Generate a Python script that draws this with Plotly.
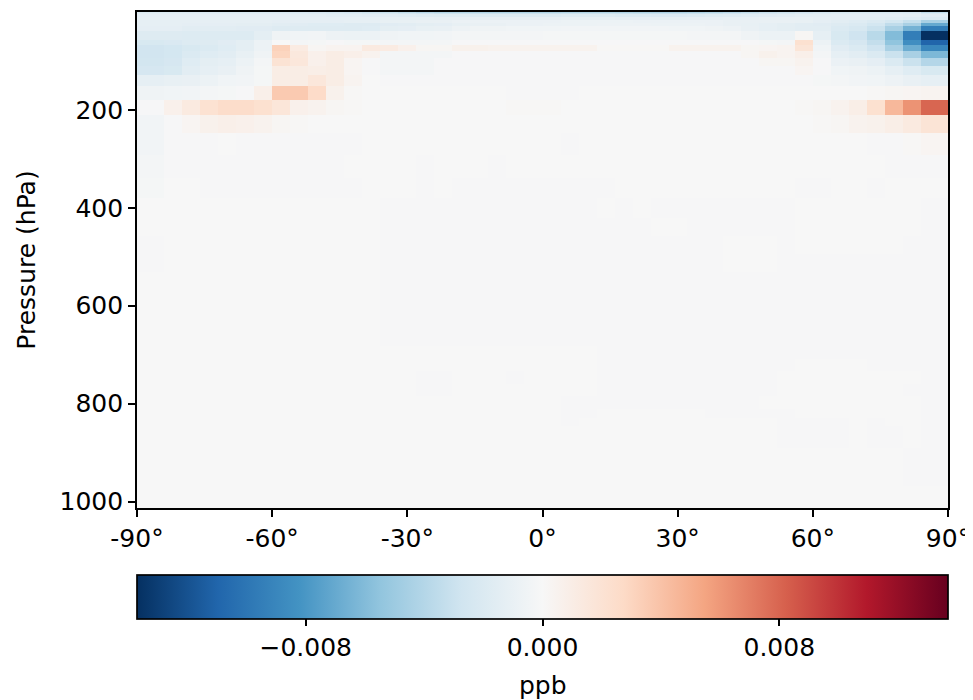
import numpy as np
import plotly.graph_objects as go

# Latitude cell edges (degrees) and pressure cell edges (hPa, top -> bottom)
lat_edges = [-90, -84, -80, -76, -72, -68, -64, -60, -56, -52, -48, -44, -40, -36, -32,
             -28, -24, -20, -16, -12, -8, -4, 0, 4, 8, 12, 16, 20, 24, 28, 32, 36, 40,
             44, 48, 52, 56, 60, 64, 68, 72, 76, 80, 84, 90]
p_edges = [0.01, 2, 5, 10, 16, 23, 28, 39, 57, 67, 79, 94, 111, 128, 152, 180, 210, 247,
           292, 340, 380, 420, 457, 495, 532, 570, 607, 645, 683, 708, 733, 759, 784, 810,
           830, 846, 861, 876, 891, 906, 922, 938, 953, 968, 983, 998, 1013.25]

# Zonal-mean difference, in units of 1e-4 ppb; one row per pressure layer (top -> bottom)
diff_1e4 = [
 [-20,-20,-21,-21,-22,-22,-22,-22,-23,-24,-26, -28,-30,-32,-36,-40,-42,-42,-43,-44,-44,-44,
  -44,-43,-42,-42,-43,-44,-45,-45,-44,-42,-40, -36,-32,-30,-28,-25,-23,-22,-22,-22,-24,-35],
 [-15,-15,-15,-16,-16,-16,-16,-16,-17,-18,-19, -20,-22,-23,-26,-28,-30,-30,-31,-31,-31,-31,
  -31,-30,-30,-30,-31,-32,-32,-32,-31,-30,-28, -26,-24,-22,-20,-18,-17,-16,-16,-16,-17,-22],
 [-13,-13,-13,-13,-13,-13,-13,-13,-14,-14,-15, -15,-16,-16,-17,-18,-19,-19,-20,-20,-20,-20,
  -20,-19,-19,-19,-20,-20,-21,-21,-20,-19,-18, -17,-16,-15,-14,-14,-13,-13,-13,-13,-14,-16],
 [-12,-12,-12,-12,-12,-12,-12,-12,-12,-12,-12, -12,-12,-12,-12,-12,-13,-13,-13,-13,-13,-13,
  -13,-12,-12,-12,-13,-13,-14,-14,-13,-13,-12, -12,-11,-11,-11,-12,-13,-13,-14,-15,-17,-20],
 [-12,-12,-12,-12,-12,-12,-12,-13,-13,-13,-13, -12,-12,-11,-11,-10,-10,-9,-9,-9,-9,-9,
  -9,-8,-8,-8,-8,-9,-9,-9,-9,-9,-10, -10,-10,-10,-11,-13,-15,-17,-20,-25,-32,-45],
 [-12,-12,-13,-13,-13,-14,-14,-15,-16,-17,-17, -18,-18,-16,-15,-14,-13,-11,-10,-10,-9,-9,
  -8,-8,-8,-7,-7,-7,-8,-8,-8,-9,-10, -11,-12,-14,-15,-16,-18,-20,-25,-35,-45,-70],
 [-13,-13,-15,-15,-15,-16,-16,-18,-18,-18,-18, -18,-17,-14,-13,-11,-10,-7,-6,-6,-5,-5,
  -5,-4,-4,-4,-4,-4,-4,-5,-5,-6,-7, -10,-12,-14,-15,-15,-20,-23,-30,-45,-65,-95],
 [-18,-18,-19,-19,-19,-19,-14,-6,-5,-4,-7, -8,-8,-6,-5,-5,-4,-3,-3,-3,-3,-3,
  -2,-2,-2,-2,-2,-2,-2,-2,-3,-3,-3, -6,-8,-8,2,-12,-22,-28,-38,-60,-95,-137],
 [-22,-21,-19,-18,-16,-14,-8,0,-3,-2,-1, -2,-2,-3,-3,-3,-3,-1,-1,-1,-1,-1,
  -1,-1,-1,-1,-1,-1,-1,-1,-1,-1,-1, -1,-2,-3,22,-8,-20,-24,-33,-55,-85,-110],
 [-27,-25,-22,-20,-17,-14,-8,32,12,2,4, 4,13,12,7,2,2,6,6,5,5,5,
  5,5,5,1,1,1,1,5,5,5,5, 2,3,4,18,-5,-16,-20,-28,-45,-68,-90],
 [-27,-25,-20,-17,-15,-11,-6,30,15,7,10, 8,5,-3,-3,-3,-3,-1,-1,-1,-1,-1,
  -1,-1,-1,-1,-1,-1,-1,-1,-1,-1,-1, 2,6,4,8,-3,-12,-15,-20,-30,-45,-62],
 [-26,-24,-17,-14,-12,-8,-3,20,16,7,10, 3,-1,-3,-3,-3,-1,-1,-1,-1,-1,-1,
  -1,-1,-1,-1,-1,-1,-1,-1,-1,-1,-1, -1,2,2,5,-1,-9,-10,-13,-20,-30,-40],
 [-24,-22,-15,-12,-10,-6,-2,10,10,9,10, 3,-1,-3,-3,-3,-1,-1,-1,-1,-1,-1,
  -1,-1,-1,-1,-1,-1,-1,-1,-1,-1,-1, -1,-1,-1,3,-1,-5,-6,-8,-12,-17,-22],
 [-12,-11,-10,-8,-5,-4,-2,10,10,16,10, 4,0,-1,-1,-1,-1,-1,-1,-1,-1,-1,
  -1,-1,-1,-1,-1,-1,-1,-1,-1,-1,-1, -1,-1,-1,-1,-2,-3,-4,-5,-7,-10,-12],
 [-6,-5,-4,-3,-2,-1,8,36,36,26,6, 1,0,0,0,0,0,0,0,0,-1,-1,
  -1,-1,0,0,0,0,0,0,0,0,0, 0,0,0,0,0,0,0,1,2,3,4],
 [-1,7,13,21,25,25,22,17,7,5,2, 1,0,0,0,0,0,0,0,0,1,1,
  1,0,0,0,0,0,0,0,0,0,0, 0,0,0,1,2,5,9,22,45,62,80],
 [-4,-1,3,6,8,7,5,2,1,0,0, 0,0,0,0,0,0,0,0,0,0,0,
  0,0,0,0,0,0,0,0,0,0,0, 0,0,0,0,1,2,5,6,9,13,19],
 [-4,-1,-1,-1,0,-1,-1,-1,-1,-1,-1, -1,0,0,0,0,0,0,0,0,0,0,
  0,-1,0,0,0,0,0,0,0,0,0, 0,0,0,0,0,0,0,-1,-1,1,3],
 [-3,-1,-1,-1,-1,-1,-1,-1,-1,-1,-1, 0,0,0,0,-1,0,0,0,-1,0,0,
  0,0,0,0,0,0,0,0,0,0,0, 0,0,0,0,0,0,0,0,-1,-1,-1],
 [-2,0,0,-1,-1,-1,-1,-1,-1,-1,-1, -1,0,0,0,-1,0,-1,-1,-1,-1,-1,
  -1,-1,-1,-1,0,0,0,0,0,0,0, 0,0,0,-1,-1,0,0,-1,0,0,0],
 [0,0,0,0,0,0,0,0,0,0,0, 0,0,-1,-1,-1,-1,-1,-1,-1,-1,-1,
  -1,-1,-1,0,-1,0,-1,-1,-1,-1,-1, -1,-1,-1,0,0,0,0,0,0,0,-1],
 [0,0,0,0,0,0,0,0,0,0,0, 0,0,-1,-1,-1,-1,-1,-1,-1,-1,-1,
  -1,-1,-1,-1,-1,-1,0,0,-1,-1,-1, -1,-1,-1,0,0,0,0,0,0,0,-1],
 [-1,0,0,0,0,0,0,0,0,0,0, 0,0,-1,-1,-1,-1,-1,-1,-1,-1,-1,
  -1,-1,-1,-1,-1,-1,-1,-1,-1,-1,0, 0,0,-1,0,0,0,0,0,0,-1,-1],
 [-1,0,0,0,0,0,0,0,0,0,0, 0,0,-1,-1,-1,-1,-1,-1,-1,-1,-1,
  -1,-1,-1,-1,-1,-1,-1,-1,-1,-1,0, 0,0,-1,-1,-1,-1,-1,-1,-1,-1,-1],
 [0,0,0,0,0,0,0,0,0,0,0, 0,0,-1,-1,-1,-1,-1,-1,-1,-1,-1,
  -1,-1,-1,-1,-1,-1,-1,-1,-1,-1,-1, -1,-1,-1,-1,-1,-1,-1,-1,-1,-1,-1],
 [0,0,0,0,0,0,0,0,0,0,0, 0,0,-1,-1,-1,-1,-1,-1,-1,-1,-1,
  -1,-1,-1,-1,-1,-1,-1,-1,-1,-1,-1, -1,-1,-1,-1,-1,-1,-1,-1,-1,-1,-1],
 [0,0,0,0,0,0,0,0,0,0,0, 0,0,-1,-1,-1,-1,-1,-1,-1,-1,-1,
  -1,-1,-1,-1,-1,-1,-1,-1,-1,-1,-1, -1,-1,-1,-1,-1,-1,-1,-1,-1,-1,-1],
 [0,0,0,0,0,0,0,0,0,0,0, 0,0,-1,-1,-1,-1,-1,-1,-1,-1,-1,
  -1,-1,-1,-1,-1,-1,-1,-1,-1,-1,-1, -1,-1,-1,-1,-1,-1,-1,-1,-1,-1,-1],
 [0,0,0,0,0,0,0,0,0,0,0, 0,0,0,0,0,0,0,0,0,0,0,
  0,0,0,-1,-1,-1,-1,-1,-1,-1,-1, -1,-1,-1,-1,-1,-1,-1,-1,-1,-1,-1],
 [0,0,0,0,0,0,0,0,0,0,0, 0,0,0,0,0,0,0,0,0,0,0,
  0,0,0,-1,-1,-1,-1,-1,-1,-1,-1, -1,-1,-1,0,0,0,0,-1,-1,-1,-1],
 [0,0,0,0,0,0,0,0,0,0,0, 0,0,0,0,-1,-1,0,0,0,-1,0,
  0,0,0,-1,-1,-1,-1,-1,-1,-1,-1, -1,-1,0,0,0,0,0,0,0,0,-1],
 [0,0,0,0,0,0,0,0,0,0,0, 0,0,0,0,-1,-1,0,0,0,0,0,
  0,0,0,-1,-1,-1,-1,-1,-1,-1,-1, -1,-1,0,0,0,0,0,0,0,-1,-1],
 [0,0,0,0,0,0,0,0,0,0,0, 0,0,0,0,0,0,0,0,0,0,0,
  0,-1,-1,-1,-1,-1,-1,-1,-1,-1,-1, -1,0,0,0,0,0,0,0,0,0,-1],
 [0,0,0,0,0,0,0,0,0,0,0, 0,0,0,0,0,0,0,0,0,0,0,
  0,-1,-1,0,0,0,0,0,0,-1,-1, -1,-1,-1,0,0,0,0,0,0,0,-1],
 [0,0,0,0,0,0,0,0,0,0,0, 0,0,0,0,0,0,0,0,0,0,0,
  0,-1,0,0,0,0,0,0,0,0,0, 0,0,-1,-1,-1,-1,0,-1,0,0,-1],
 [0,0,0,0,0,0,0,0,0,0,0, 0,0,0,0,0,0,0,0,0,0,0,
  0,0,0,0,0,0,0,0,0,0,0, 0,0,-1,-1,-1,-1,0,-1,-1,0,-1],
 [0,0,0,0,0,0,0,0,0,0,0, 0,0,0,0,0,0,0,0,0,0,0,
  0,0,0,0,0,0,0,0,0,0,0, 0,0,-1,-1,-1,-1,0,-1,-1,0,-1],
 [0,0,0,0,0,0,0,0,0,0,0, 0,0,0,0,0,0,0,0,0,0,0,
  0,0,0,0,0,0,0,0,0,0,0, 0,0,-1,-1,-1,-1,0,-1,-1,0,-1],
 [0,0,0,0,0,0,0,0,0,0,0, 0,0,0,0,0,0,0,0,0,0,0,
  0,0,0,0,0,0,0,0,0,0,0, 0,0,0,0,0,0,0,0,0,-1,-1],
 [0,0,0,0,0,0,0,0,0,0,0, 0,0,0,0,0,0,0,0,0,0,0,
  0,0,0,0,0,0,0,0,0,0,0, 0,0,0,0,0,0,0,0,0,-1,-1],
 [0,0,0,0,0,0,0,0,0,0,0, 0,0,0,0,0,0,0,0,0,0,0,
  0,0,0,0,0,0,0,0,0,0,0, 0,0,0,0,0,0,0,0,0,-1,-1],
 [0,0,0,0,0,0,0,0,0,0,0, 0,0,0,0,0,0,0,0,0,0,0,
  0,0,0,0,0,0,0,0,0,0,0, 0,0,0,0,0,0,0,0,0,-1,-1],
 [0,0,0,0,0,0,0,0,0,0,0, 0,0,0,0,0,0,0,0,0,0,0,
  0,0,0,0,0,0,0,0,0,0,0, 0,0,0,0,0,0,0,0,0,-1,-1],
 [0,0,0,0,0,0,0,0,0,0,0, 0,0,0,0,0,0,0,0,0,0,0,
  0,0,0,0,0,0,0,0,0,0,0, 0,0,0,0,0,0,0,0,0,0,0],
 [0,0,0,0,0,0,0,0,0,0,0, 0,0,0,0,0,0,0,0,0,0,0,
  0,0,0,0,0,0,0,0,0,0,0, 0,0,0,0,0,0,0,0,0,0,0],
 [0,0,0,0,0,0,0,0,0,0,0, 0,0,0,0,0,0,0,0,0,0,0,
  0,0,0,0,0,0,0,0,0,0,0, 0,0,0,0,0,0,0,0,0,0,0],
]

color_limit = 0.0137
x_tickvals = [-90, -60, -30, 0, 30, 60, 90]
x_ticktext = ["-90°", "-60°", "-30°", "0°", "30°", "60°", "90°"]
y_tickvals = [200, 400, 600, 800, 1000]
cb_tickvals = [-0.008, 0.0, 0.008]
cb_ticktext = ["\u22120.008", "0.000", "0.008"]
cb_label = "ppb"

# matplotlib RdBu_r
rdbu_r = ["#053061", "#2166ac", "#4393c3", "#92c5de", "#d1e5f0", "#f7f7f7",
          "#fddbc7", "#f4a582", "#d6604d", "#b2182b", "#67001f"]
colorscale = [[i / 10, c] for i, c in enumerate(rdbu_r)]

z = np.array(diff_1e4, dtype=float) * 1e-4

FONT = "DejaVu Sans"
FS = 25

fig = go.Figure(go.Heatmap(
    x=lat_edges, y=p_edges, z=z,
    colorscale=colorscale, zmin=-color_limit, zmax=color_limit,
    hoverinfo="skip",
    colorbar=dict(
        orientation="h", x=0.5, xanchor="center", y=-0.135, yanchor="top",
        len=811, lenmode="pixels", thickness=44, thicknessmode="pixels",
        xpad=0, ypad=0,
        outlinewidth=1.7, outlinecolor="black",
        ticks="outside", ticklen=7, tickwidth=1.7, tickcolor="black",
        tickvals=cb_tickvals, ticktext=cb_ticktext,
        tickfont=dict(family=FONT, size=FS, color="black"),
    ),
))

fig.add_annotation(
    text=cb_label, xref="paper", yref="paper", x=0.5, y=-0.357,
    xanchor="center", yanchor="middle", showarrow=False,
    font=dict(family=FONT, size=FS, color="black"),
)

fig.update_layout(
    width=965, height=692,
    margin=dict(l=129, r=25, t=4, b=192, autoexpand=False),
    paper_bgcolor="white", plot_bgcolor="white",
    font=dict(family=FONT, size=FS, color="black"),
    showlegend=False,
)
fig.update_xaxes(
    range=[-90, 90], tickvals=x_tickvals, ticktext=x_ticktext,
    showgrid=False, zeroline=False, automargin=False,
    showline=True, linecolor="black", linewidth=1.7, mirror=True,
    ticks="outside", ticklen=7, tickwidth=1.7, tickcolor="black",
    tickfont=dict(family=FONT, size=FS, color="black"),
)
fig.update_yaxes(
    range=[1013.25, 0.01], tickvals=y_tickvals,
    showgrid=False, zeroline=False, automargin=False,
    showline=True, linecolor="black", linewidth=1.7, mirror=True,
    ticks="outside", ticklen=7, tickwidth=1.7, tickcolor="black",
    tickfont=dict(family=FONT, size=FS, color="black"),
    title=dict(text="Pressure (hPa)", standoff=17, font=dict(family=FONT, size=FS, color="black")),
)

fig.write_html("out.html")
